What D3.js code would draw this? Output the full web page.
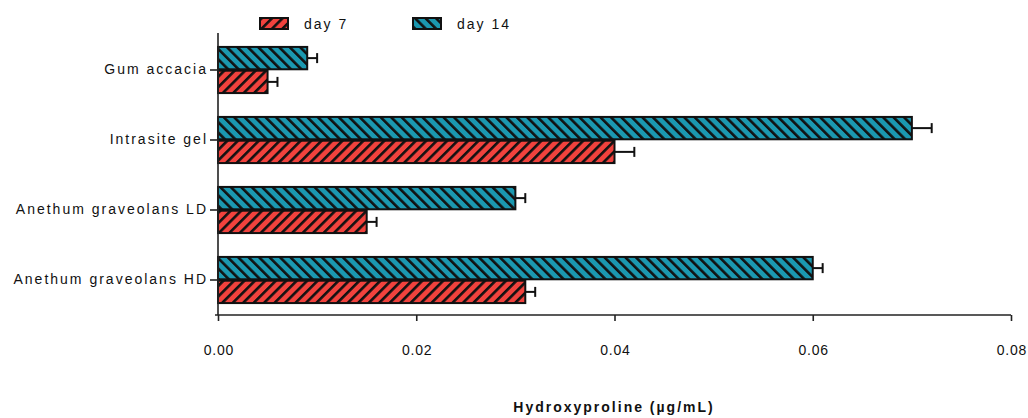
<!DOCTYPE html>
<html>
<head>
<meta charset="utf-8">
<script src="https://cdn.jsdelivr.net/npm/d3@7"></script>
<style>
  body { margin: 0; background: #fff; }
  svg text { font-family: "Liberation Sans", Arial, sans-serif; font-size: 14px; letter-spacing: 2px; fill: #111; }
</style>
</head>
<body>
<svg id="chart" width="1028" height="418"></svg>
<script>
const categories = ["Gum accacia", "Intrasite gel", "Anethum graveolans LD", "Anethum graveolans HD"];
const day7 = [0.005, 0.040, 0.015, 0.031];
const day7Err = [0.001, 0.002, 0.001, 0.001];
const day14 = [0.009, 0.070, 0.030, 0.060];
const day14Err = [0.001, 0.002, 0.001, 0.001];
const xTicks = [0, 0.02, 0.04, 0.06, 0.08];

const series = [
  { key: "day 14", values: day14, errs: day14Err, fill: "#1b98b0", pat: "hatch14", rot: -45 },
  { key: "day 7", values: day7, errs: day7Err, fill: "#f1423d", pat: "hatch7", rot: 45 }
];

const svg = d3.select("#chart");

// hatch patterns
const defs = svg.append("defs");
series.forEach(s => {
  const p = defs.append("pattern")
    .attr("id", s.pat)
    .attr("patternUnits", "userSpaceOnUse")
    .attr("width", 7.4)
    .attr("height", 7.4)
    .attr("patternTransform", "rotate(" + s.rot + ")");
  p.append("rect").attr("width", 7.4).attr("height", 7.4).attr("fill", s.fill);
  p.append("rect").attr("width", 2.6).attr("height", 7.4).attr("fill", "#111");
});

const x = d3.scaleLinear().domain([0, 0.08]).range([218, 1011]);

const y = d3.scaleBand()
  .domain(categories)
  .range([35, 315])
  .paddingInner(0.3)
  .paddingOuter(0.15);

const ySub = d3.scaleBand()
  .domain(series.map(s => s.key))
  .range([0, y.bandwidth()])
  .padding(0.06);

// bars
const groups = svg.append("g")
  .selectAll("g")
  .data(series)
  .enter().append("g");

groups.selectAll("rect")
  .data(s => categories.map((c, i) => ({ c: c, v: s.values[i], e: s.errs[i], s: s })))
  .enter().append("rect")
  .attr("x", x(0))
  .attr("y", d => y(d.c) + ySub(d.s.key))
  .attr("width", d => x(d.v) - x(0))
  .attr("height", ySub.bandwidth())
  .attr("fill", d => "url(#" + d.s.pat + ")")
  .attr("stroke", "#111")
  .attr("stroke-width", 2);

// error bars
const err = groups.selectAll("g.err")
  .data(s => categories.map((c, i) => ({ c: c, v: s.values[i], e: s.errs[i], s: s })))
  .enter().append("g")
  .attr("class", "err")
  .attr("stroke", "#111")
  .attr("stroke-width", 2);

err.append("line")
  .attr("x1", d => x(d.v))
  .attr("x2", d => x(d.v + d.e))
  .attr("y1", d => y(d.c) + ySub(d.s.key) + ySub.bandwidth() / 2)
  .attr("y2", d => y(d.c) + ySub(d.s.key) + ySub.bandwidth() / 2);

err.append("line")
  .attr("x1", d => x(d.v + d.e))
  .attr("x2", d => x(d.v + d.e))
  .attr("y1", d => y(d.c) + ySub(d.s.key) + ySub.bandwidth() / 2 - 5)
  .attr("y2", d => y(d.c) + ySub(d.s.key) + ySub.bandwidth() / 2 + 5);

// axes
const yAxis = svg.append("g")
  .attr("transform", "translate(" + x(0) + ",0)")
  .call(d3.axisLeft(y).tickSize(8).tickSizeOuter(0).tickPadding(2));
yAxis.selectAll("text").style("font-size", "14px").style("font-family", null).attr("fill", "#111");
yAxis.select(".domain").attr("d", "M0,33V315");

const xAxis = svg.append("g")
  .attr("transform", "translate(0,315)")
  .call(d3.axisBottom(x).tickValues(xTicks).tickFormat(d3.format(".2f")).tickSize(6).tickSizeOuter(0).tickPadding(24));
xAxis.selectAll("text")
  .style("font-size", "14px").style("font-family", null).style("letter-spacing", "0.8px")
  .attr("fill", "#111").attr("dx", "0.4");

svg.selectAll(".domain, .tick line").attr("stroke", "#222").attr("stroke-width", 1.6);
xAxis.select(".domain").attr("d", "M215,0H1011");

svg.append("text")
  .attr("x", 614)
  .attr("y", 412)
  .attr("text-anchor", "middle")
  .attr("font-weight", "bold")
  .text("Hydroxyproline (\u00b5g/mL)");

// legend
const legend = svg.append("g")
  .selectAll("g")
  .data(series.slice().reverse())
  .enter().append("g")
  .attr("transform", (d, i) => "translate(" + (260 + i * 153) + ",18)");

legend.append("rect")
  .attr("width", 28)
  .attr("height", 11)
  .attr("fill", d => "url(#" + d.pat + ")")
  .attr("stroke", "#111")
  .attr("stroke-width", 2);

legend.append("text")
  .attr("x", 44)
  .attr("y", 11)
  .text(d => d.key);
</script>
</body>
</html>
